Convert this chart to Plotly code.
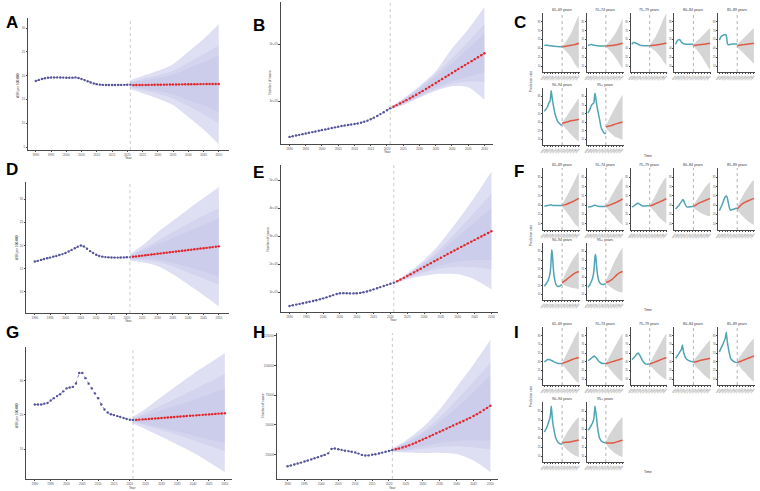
import plotly.graph_objects as go

W, H = 760, 491
FONT = "Arial, Liberation Sans, sans-serif"

# ---------------- data: big panels ----------------
HIST_YEARS = list(range(1990, 2022))
PROJ_YEARS = list(range(2022, 2051))
BAND_YEARS = [2021, 2025, 2030, 2035, 2040, 2045, 2050]
X_TICKS = list(range(1990, 2051, 5))

A_HIST = [18.87, 19.10, 19.30, 19.45, 19.55, 19.60, 19.62, 19.62, 19.60, 19.58,
          19.56, 19.55, 19.57, 19.62, 19.50, 19.30, 19.05, 18.80, 18.55, 18.35,
          18.20, 18.10, 18.05, 18.03, 18.02, 18.02, 18.03, 18.04, 18.05, 18.06,
          18.08, 18.10]
A_PROJ = [18.00, 18.01, 18.02, 18.03, 18.04, 18.05, 18.06, 18.07, 18.08, 18.09,
          18.10, 18.11, 18.12, 18.13, 18.14, 18.15, 18.16, 18.17, 18.18, 18.19,
          18.20, 18.20, 18.21, 18.21, 18.22, 18.22, 18.23, 18.24, 18.25]
A_UPPER = [[19.0, 19.9, 21.0, 22.4, 25.0, 27.7, 30.8],
           [18.7, 19.3, 20.0, 21.0, 22.7, 24.5, 26.4],
           [18.5, 18.9, 19.5, 20.2, 21.5, 22.8, 24.3]]
A_LOWER = [[17.2, 16.3, 15.2, 13.8, 11.3, 8.7, 5.6],
           [17.5, 16.9, 16.2, 15.2, 13.6, 11.9, 10.0],
           [17.7, 17.3, 16.8, 16.1, 14.9, 13.8, 12.3]]

B_HIST = [37000, 38200, 39400, 40600, 41800, 43000, 44200, 45400, 46600, 47800,
          49000, 50200, 51400, 52600, 53800, 55000, 56200, 57200, 58000, 58800,
          59600, 60500, 61800, 63500, 65500, 68000, 70800, 73800, 77000, 80300,
          83700, 87200]
B_PROJ = [90000, 92800, 95600, 98500, 101500, 104600, 107800, 111000, 114300, 117700,
          121100, 124600, 128100, 131600, 135100, 138600, 142100, 145600, 149100, 152600,
          156100, 159600, 163000, 166500, 169900, 173400, 176800, 180300, 183700]
B_UPPER = [[89500, 104000, 126000, 152000, 192000, 226000, 265000],
           [89000, 103000, 124000, 148000, 175000, 204000, 235000],
           [88500, 101500, 121000, 143000, 166000, 192000, 219000]]
B_LOWER = [[85000, 93000, 106000, 118000, 126000, 124000, 101800],
           [85500, 94000, 107000, 120500, 130000, 134000, 133300],
           [86000, 95500, 109000, 123500, 134500, 142500, 151000]]

D_HIST = [16.56, 16.7, 16.9, 17.1, 17.25, 17.4, 17.6, 17.75, 17.95, 18.15,
          18.4, 18.7, 19.05, 19.4, 19.75, 20.0, 19.8, 19.3, 18.8, 18.4,
          18.0, 17.75, 17.6, 17.5, 17.45, 17.42, 17.4, 17.4, 17.42, 17.44,
          17.46, 17.5]
D_PROJ = [17.58, 17.66, 17.74, 17.82, 17.90, 17.98, 18.06, 18.14, 18.22, 18.30,
          18.38, 18.46, 18.54, 18.62, 18.70, 18.78, 18.86, 18.94, 19.02, 19.10,
          19.18, 19.26, 19.34, 19.42, 19.50, 19.58, 19.66, 19.74, 19.82]
D_UPPER = [[18.2, 20.0, 22.8, 25.3, 27.8, 30.2, 32.6],
           [17.95, 19.2, 21.0, 22.9, 24.7, 26.4, 28.0],
           [17.8, 18.8, 20.2, 21.6, 23.0, 24.4, 25.9]]
D_LOWER = [[16.8, 16.4, 15.6, 13.8, 11.6, 9.3, 6.9],
           [17.05, 16.9, 16.5, 15.5, 14.2, 12.9, 11.5],
           [17.2, 17.2, 17.0, 16.3, 15.3, 14.4, 13.3]]

E_HIST = [50000, 52500, 55000, 57500, 60000, 62500, 65000, 67800, 70700, 73800,
          77300, 81000, 85000, 89000, 92800, 95300, 96000, 95500, 95000, 95000,
          95500, 96800, 99000, 102000, 105500, 109500, 113500, 117500, 121500, 125500,
          129500, 133000]
E_PROJ = [138500, 144500, 150600, 157000, 163500, 170000, 176600, 183200, 189800, 196400,
          203000, 209600, 216100, 222600, 229100, 235600, 242000, 248400, 254800, 261100,
          267400, 273700, 279900, 286100, 292300, 298500, 304600, 310700, 316800]
E_UPPER = [[135000, 166000, 214000, 278000, 355000, 438000, 530000],
           [134500, 163000, 205000, 258000, 320000, 385000, 452000],
           [134000, 161000, 200000, 246000, 297000, 349000, 400000]]
E_LOWER = [[131000, 146000, 158000, 165000, 163000, 145000, 109500],
           [131500, 150000, 170000, 184000, 190000, 188000, 181000],
           [132000, 152000, 176000, 196000, 209000, 214000, 214000]]

G_HIST = [23.05, 23.05, 23.05, 23.3, 23.5, 24.2, 24.9, 25.5, 26.06, 26.9,
          27.75, 28.0, 28.2, 29.2, 32.25, 32.25, 30.75, 29.15, 27.75, 26.3,
          24.9, 23.05, 21.6, 20.7, 20.2, 19.95, 19.66, 19.4, 19.1, 18.8,
          18.6, 18.5]
G_PROJ = [18.55, 18.62, 18.69, 18.76, 18.83, 18.90, 18.97, 19.04, 19.11, 19.18,
          19.25, 19.32, 19.39, 19.46, 19.53, 19.60, 19.67, 19.74, 19.81, 19.88,
          19.95, 20.02, 20.09, 20.16, 20.23, 20.30, 20.37, 20.44, 20.51]
G_UPPER = [[19.5, 21.8, 25.3, 28.7, 32.0, 35.0, 38.1],
           [19.1, 20.6, 22.8, 25.0, 27.3, 29.6, 32.0],
           [18.9, 19.9, 21.3, 22.8, 24.4, 26.0, 27.7]]
G_LOWER = [[17.5, 15.8, 13.6, 11.3, 9.0, 6.2, 3.3],
           [17.9, 16.9, 15.6, 14.2, 12.6, 11.0, 9.4],
           [18.1, 17.3, 16.3, 15.2, 14.0, 12.9, 11.8]]

H_HIST = [15200, 15900, 16700, 17500, 18300, 19200, 20100, 21000, 22000, 22900,
          23900, 24800, 26100, 29800, 30200, 29600, 29000, 28400, 28000, 27500,
          26900, 25900, 24800, 24300, 24400, 24900, 25400, 26000, 26700, 27400,
          28100, 28900]
H_PROJ = [29500, 30200, 31000, 31900, 32900, 34000, 35200, 36500, 37800, 39100,
          40400, 41700, 43000, 44300, 45600, 46900, 48200, 49500, 50800, 52100,
          53400, 54700, 56000, 57500, 59100, 60800, 62600, 64400, 66200]
H_UPPER = [[30500, 37000, 48000, 63000, 82000, 101000, 121700],
           [30000, 35500, 44500, 56500, 71000, 86500, 102600],
           [29700, 34500, 42500, 52500, 64500, 77500, 91600]]
H_LOWER = [[27400, 26800, 26300, 26500, 25500, 20000, 10200],
           [27900, 28300, 30000, 31500, 32000, 31000, 29300],
           [28200, 29300, 32000, 35000, 36800, 37200, 37000]]

A_YTICKS = [5, 10, 15, 20, 25, 30]
B_YTICKS = [100000, 200000]
B_YTEXT = ["1e+05", "2e+05"]
D_YTICKS = [10, 15, 20, 25, 30]
E_YTICKS = [100000, 200000, 300000, 400000, 500000]
E_YTEXT = ["1e+05", "2e+05", "3e+05", "4e+05", "5e+05"]
G_YTICKS = [10, 20, 30]
H_YTICKS = [25000, 50000, 75000, 100000, 125000]
H_YTEXT = ["25000", "50000", "75000", "100000", "125000"]

# ---------------- data: facet panels ----------------
AGE_GROUPS = ["65–69 years", "70–74 years", "75–79 years", "80–84 years",
              "85–89 years", "90–94 years", "95+ years"]
F_HIST_YEARS = [1990, 1993, 1996, 1998, 2000, 2001, 2002, 2003, 2004, 2006,
                2008, 2010, 2013, 2016, 2019, 2021]
F_PROJ_YEARS = [2021, 2025, 2030, 2035, 2040, 2045, 2050]
FACET_YTICKS = [10, 25, 40, 55, 70, 85]

C_HIST = [
    [45, 45.5, 45, 44.8, 44.5, 44.4, 44.3, 44.2, 44, 43.8, 43.6, 43.4, 43.2, 43, 43, 43],
    [45, 46, 46.5, 46, 45.5, 45.3, 45.2, 45, 44.8, 44.5, 44.3, 44, 44, 44, 44, 44],
    [47, 50, 49.5, 48.5, 47.5, 47, 46.5, 46, 45.5, 45, 44.8, 44.6, 44.6, 44.6, 44.6, 44.6],
    [47, 53, 55, 54, 51, 50, 49, 48.5, 48, 47.5, 47, 47, 47, 47, 47, 47],
    [54, 60, 62, 63, 63, 63.5, 62, 56, 48, 46, 46.5, 47, 47.5, 47.5, 47.5, 47.5],
    [59, 63, 68, 74, 77, 85, 95, 88, 80, 68, 57, 50, 42, 38, 35, 35],
    [56, 62, 70, 72, 74, 82, 91, 86, 78, 65, 55, 45, 30, 24, 20, 21],
]
C_PROJ = [
    [43, 43.3, 44, 45, 46, 47, 48.6],
    [44, 44.3, 44.8, 45.4, 46.2, 47.3, 48.6],
    [44.6, 45, 45.5, 46.2, 47, 48, 49],
    [45, 45.5, 46, 46.5, 47.2, 47.9, 48.6],
    [44.5, 45.2, 46, 46.8, 47.5, 48, 48.6],
    [38, 39, 40.5, 42, 43, 44, 45],
    [32, 33, 34, 36, 37.5, 39, 40],
]
C_UP = [
    [44, 48, 55, 63, 73, 85, 97],
    [45, 49, 55, 62, 70, 80, 91],
    [46, 51, 58, 67, 78, 90, 100],
    [47, 51, 55, 60, 65, 70, 74],
    [47, 51, 55, 60, 65, 70, 74],
    [39, 45, 52, 60, 67, 75, 82],
    [34, 42, 52, 62, 71, 80, 88],
]
C_LO = [
    [42, 38, 33, 27, 19, 11, 5],
    [43, 39, 34, 28, 21, 13, 6],
    [43, 40, 36, 31, 25, 18, 11],
    [44, 40, 34, 27, 19, 11, 3],
    [42, 38, 34, 29, 24, 19, 14],
    [36, 31, 26, 20, 15, 10, 6],
    [30, 25, 20, 16, 13, 11, 9],
]

F_HIST = [
    [38.5, 39, 39.5, 40, 40.5, 40.5, 40.5, 40.5, 40, 39.5, 39.5, 39.5, 39.5, 39.5, 39.5, 39.5],
    [37, 37.5, 38, 38.5, 39.5, 40, 40, 39.8, 39.3, 38.5, 38.2, 38, 38, 38, 38, 38],
    [37, 38.5, 40.5, 42, 43, 43, 42.5, 42, 41.3, 40, 39.2, 38.8, 38.8, 39, 39, 39],
    [34, 37, 40, 43, 45.5, 47, 48.5, 49, 47.5, 43, 39, 37, 37, 37.5, 38, 38],
    [31, 37, 44, 49, 53, 54.5, 55, 54, 51, 42, 34, 32, 33, 34, 35, 35],
    [24, 28, 33, 38, 47, 56, 72, 88, 80, 52, 36, 28, 24, 24, 26, 27],
    [22, 27, 33, 39, 50, 62, 76, 80, 70, 48, 36, 31, 28, 27, 28, 28],
]
F_PROJ = [
    [39.5, 40.5, 42, 44, 46, 48.5, 51],
    [38.5, 39.5, 41, 43, 45, 47.5, 50],
    [39, 40, 42, 44, 46, 48, 50.5],
    [38, 40, 43, 45, 47, 49, 51],
    [34, 38, 42, 45, 47, 49, 51],
    [30, 33, 37, 41, 45, 48, 50],
    [31, 32, 35, 39, 44, 48, 50],
]
F_UP = [
    [41, 48, 56, 65, 74, 84, 93],
    [40, 46, 54, 62, 70, 78, 86],
    [40, 46, 54, 63, 72, 80, 86],
    [40, 46, 53, 60, 67, 73, 78],
    [37, 45, 54, 62, 69, 76, 81],
    [32, 43, 53, 63, 72, 79, 85],
    [33, 43, 54, 65, 75, 84, 92],
]
F_LO = [
    [38, 33, 27, 21, 14, 8, 4],
    [37, 33, 28, 23, 17, 12, 8],
    [38, 34, 29, 23, 18, 14, 11],
    [36, 33, 30, 27, 25, 23, 22],
    [32, 28, 23, 18, 14, 11, 8],
    [28, 26, 24, 22, 21, 20, 19],
    [29, 26, 22, 19, 16, 14, 13],
]

I_HIST = [
    [40, 42, 44, 44, 43.5, 43, 42.5, 42, 41.5, 40.5, 39.5, 38.5, 37.5, 37, 37, 37],
    [42, 44, 46.5, 48, 49.5, 50, 49, 48, 47, 44.5, 42, 40, 38, 37, 37, 37],
    [44, 46.5, 50, 52.5, 54.5, 55, 54, 52.5, 51, 47, 43, 40, 37, 36, 36, 36],
    [46, 50, 55, 58, 61, 65, 69, 62, 56, 50, 46, 44, 42, 41, 40, 40],
    [57, 64, 70, 75, 80, 85, 91, 82, 74, 62, 52, 45, 42, 40, 39, 39],
    [50, 55, 62, 68, 74, 82, 93, 85, 72, 58, 48, 40, 34, 31, 30, 30],
    [53, 57, 62, 66, 72, 82, 93, 86, 80, 62, 48, 40, 35, 33, 32, 32],
]
I_PROJ = [
    [37, 38.5, 40.5, 42.5, 44.5, 46, 47.5],
    [37, 38, 39.5, 41, 42.5, 44, 46],
    [36, 37.5, 39.5, 41.5, 43.5, 45.5, 47],
    [39, 40, 41.5, 43, 44, 45, 46],
    [39, 40, 42, 44, 46, 48, 50],
    [32, 32.5, 33, 33.5, 34.5, 35.5, 36.5],
    [32, 31.8, 31.5, 32, 33.5, 35, 36.5],
]
I_UP = [
    [38, 46, 56, 66, 76, 86, 94],
    [38, 45, 54, 63, 72, 81, 89],
    [38, 45, 54, 63, 72, 81, 89],
    [41, 47, 53, 60, 66, 72, 77],
    [41, 48, 55, 62, 69, 75, 80],
    [34, 42, 50, 57, 64, 70, 75],
    [34, 42, 50, 57, 64, 70, 75],
]
I_LO = [
    [36, 31, 25, 19, 13, 7, 3],
    [36, 31, 25, 19, 14, 9, 6],
    [34, 30, 25, 20, 16, 12, 9],
    [37, 32, 27, 22, 17, 13, 9],
    [37, 32, 26, 21, 15, 10, 6],
    [30, 25, 20, 16, 13, 10, 8],
    [30, 25, 20, 16, 13, 10, 8],
]

# ---------------- styles & layout helpers ----------------
BAND_COLORS = ["rgba(120,120,210,0.24)", "rgba(120,120,200,0.10)", "rgba(110,110,190,0.08)"]
HIST_COLOR = "#55559A"
PROJ_COLOR = "#E3262A"
TEAL = "#4FA5B5"
SALMON = "#DF5A45"
GREY_BAND = "#D5D5D5"

layout = dict(width=W, height=H, margin=dict(l=0, r=0, t=0, b=0),
              paper_bgcolor="white", plot_bgcolor="white", showlegend=False,
              font=dict(family=FONT, size=4, color="#333"))
traces, shapes, annotations = [], [], []
counter = [0]


def axis_style(**kw):
    d = dict(showline=True, linecolor="#4a4a4a", linewidth=0.8, ticks="outside",
             ticklen=1.2, tickwidth=0.5, tickcolor="#4a4a4a", showgrid=False,
             zeroline=False, tickfont=dict(size=3, color="#555"), fixedrange=True)
    d.update(kw)
    return d


def add_axes(xpx, ypx, xa, ya):
    counter[0] += 1
    i = counter[0]
    s = "" if i == 1 else str(i)
    layout["xaxis" + s] = dict(domain=[xpx[0] / W, xpx[1] / W], anchor="y" + s, **xa)
    layout["yaxis" + s] = dict(domain=[1 - ypx[1] / H, 1 - ypx[0] / H], anchor="x" + s, **ya)
    return "x" + s, "y" + s


def text(x, y, t, size=4, angle=0, bold=False, color="#333", xanchor="center"):
    annotations.append(dict(x=x / W, y=1 - y / H, xref="paper", yref="paper",
                            text=("<b>%s</b>" % t) if bold else t, showarrow=False,
                            textangle=angle, xanchor=xanchor, yanchor="middle",
                            font=dict(size=size, family=FONT, color=color)))


def vline(xr, yr, year, color="#BDBDBD"):
    shapes.append(dict(type="line", xref=xr, yref=yr + " domain", x0=year, x1=year,
                       y0=0, y1=1, line=dict(color=color, width=0.8, dash="dot")))


# ---------------- big panels ----------------
BIG = [
    dict(xpx=(25, 227), ypx=(18, 150), xr=[1987.4, 2053.3], yr=[4.37, 32.1],
         yt=A_YTICKS, ytt=[str(v) for v in A_YTICKS], hist=A_HIST, proj=A_PROJ,
         up=A_UPPER, lo=A_LOWER, ylab="ASR per 100,000", ylp=(15, 85), yearp=(126, 157.5)),
    dict(xpx=(279, 493), ypx=(2, 144), xr=[1987.25, 2052.75], yr=[24560, 273700],
         yt=B_YTICKS, ytt=B_YTEXT, hist=B_HIST, proj=B_PROJ,
         up=B_UPPER, lo=B_LOWER, ylab="Number of cases", ylp=(268, 83), yearp=(387, 151.5)),
    dict(xpx=(23, 227), ypx=(182, 313), xr=[1987.08, 2053.24], yr=[5.48, 33.66],
         yt=D_YTICKS, ytt=[str(v) for v in D_YTICKS], hist=D_HIST, proj=D_PROJ,
         up=D_UPPER, lo=D_LOWER, ylab="ASR per 100,000", ylp=(14, 247), yearp=(126, 320.5)),
    dict(xpx=(279, 498), ypx=(165, 312), xr=[1987.34, 2052.07], yr=[28600, 553600],
         yt=E_YTICKS, ytt=E_YTEXT, hist=E_HIST, proj=E_PROJ,
         up=E_UPPER, lo=E_LOWER, ylab="Number of cases", ylp=(266, 240), yearp=(393, 319.5)),
    dict(xpx=(23, 230), ypx=(347, 479), xr=[1987.17, 2052.2], yr=[1.27, 39.86],
         yt=G_YTICKS, ytt=[str(v) for v in G_YTICKS], hist=G_HIST, proj=G_PROJ,
         up=G_UPPER, lo=G_LOWER, ylab="ASR per 100,000", ylp=(14, 415), yearp=(130, 487.5)),
    dict(xpx=(275, 498), ypx=(333, 479), xr=[1986.76, 2052.35], yr=[4508, 127460],
         yt=H_YTICKS, ytt=H_YTEXT, hist=H_HIST, proj=H_PROJ,
         up=H_UPPER, lo=H_LOWER, ylab="Number of cases", ylp=(261, 406), yearp=(392, 487.5)),
]

for p in BIG:
    xa = axis_style(range=p["xr"], tickvals=X_TICKS, ticktext=[str(v) for v in X_TICKS])
    ya = axis_style(range=p["yr"], tickvals=p["yt"], ticktext=p["ytt"])
    xr, yr = add_axes(p["xpx"], p["ypx"], xa, ya)
    for k in range(3):
        traces.append(go.Scatter(x=BAND_YEARS, y=p["lo"][k], mode="lines",
                                 line=dict(width=0, shape="spline", smoothing=0.8),
                                 xaxis=xr, yaxis=yr, hoverinfo="skip"))
        traces.append(go.Scatter(x=BAND_YEARS, y=p["up"][k], mode="lines", fill="tonexty",
                                 fillcolor=BAND_COLORS[k],
                                 line=dict(width=0, shape="spline", smoothing=0.8),
                                 xaxis=xr, yaxis=yr, hoverinfo="skip"))
    vline(xr, yr, 2021)
    traces.append(go.Scatter(x=HIST_YEARS, y=p["hist"], mode="lines+markers",
                             line=dict(color=HIST_COLOR, width=0.7, dash="dot"),
                             marker=dict(color=HIST_COLOR, size=2.4), xaxis=xr, yaxis=yr))
    traces.append(go.Scatter(x=PROJ_YEARS, y=p["proj"], mode="lines+markers",
                             line=dict(color=PROJ_COLOR, width=0.8, dash="dot"),
                             marker=dict(color=PROJ_COLOR, size=2.4), xaxis=xr, yaxis=yr))
    text(p["ylp"][0], p["ylp"][1], p["ylab"], size=3.2, angle=-90)
    text(p["yearp"][0], p["yearp"][1], "Year", size=3.2)

# ---------------- facet panels ----------------
COLS = [(543, 580), (587, 624), (631, 668), (675, 712), (719, 756)]
GROUPS = [
    dict(rows=[(13, 72), (88, 145)], hist=C_HIST, proj=C_PROJ, up=C_UP, lo=C_LO,
         ylp=(531, 82), timep=(648, 156)),
    dict(rows=[(168, 230), (243, 300)], hist=F_HIST, proj=F_PROJ, up=F_UP, lo=F_LO,
         ylp=(531, 236), timep=(648, 310)),
    dict(rows=[(327, 385), (402, 462)], hist=I_HIST, proj=I_PROJ, up=I_UP, lo=I_LO,
         ylp=(531, 397), timep=(648, 472)),
]

for g in GROUPS:
    for i, age in enumerate(AGE_GROUPS):
        row = 0 if i < 5 else 1
        col = i if i < 5 else i - 5
        xpx = COLS[col]
        ypx = g["rows"][row]
        xa = axis_style(range=[1988, 2052], tickvals=X_TICKS,
                        ticktext=[str(v) for v in X_TICKS], tickangle=-45,
                        tickfont=dict(size=2.4, color="#555"), ticklen=1.2)
        ya = axis_style(range=[0, 100], tickvals=FACET_YTICKS,
                        ticktext=[str(v) for v in FACET_YTICKS],
                        tickfont=dict(size=2.6, color="#555"), ticklen=1.2)
        xr, yr = add_axes(xpx, ypx, xa, ya)
        traces.append(go.Scatter(x=F_PROJ_YEARS, y=g["lo"][i], mode="lines",
                                 line=dict(width=0, shape="spline", smoothing=0.8),
                                 xaxis=xr, yaxis=yr, hoverinfo="skip"))
        traces.append(go.Scatter(x=F_PROJ_YEARS, y=g["up"][i], mode="lines", fill="tonexty",
                                 fillcolor=GREY_BAND,
                                 line=dict(width=0, shape="spline", smoothing=0.8),
                                 xaxis=xr, yaxis=yr, hoverinfo="skip"))
        vline(xr, yr, 2021, color="#9E9E9E")
        traces.append(go.Scatter(x=F_HIST_YEARS, y=g["hist"][i], mode="lines",
                                 line=dict(color=TEAL, width=1.5, shape="spline", smoothing=0.6),
                                 xaxis=xr, yaxis=yr))
        traces.append(go.Scatter(x=F_PROJ_YEARS, y=g["proj"][i], mode="lines",
                                 line=dict(color=SALMON, width=1.5, shape="spline", smoothing=0.6),
                                 xaxis=xr, yaxis=yr))
        text((xpx[0] + xpx[1]) / 2, ypx[0] - 3, age, size=3.6)
    text(g["ylp"][0], g["ylp"][1], "Prediction rate", size=3.3, angle=-90)
    text(g["timep"][0], g["timep"][1], "Time", size=3.6)

# ---------------- panel letters ----------------
LETTERS = [("A", 1, 23), ("B", 249, 25), ("C", 512, 23),
           ("D", 1, 170), ("E", 249, 172), ("F", 512, 171),
           ("G", 1, 332), ("H", 249, 332), ("I", 512, 332)]
for t, x, y in LETTERS:
    text(x, y, t, size=17, bold=True, color="#000", xanchor="left")

layout["shapes"] = shapes
layout["annotations"] = annotations
fig = go.Figure(data=traces, layout=layout)
fig.write_html("out.html")
